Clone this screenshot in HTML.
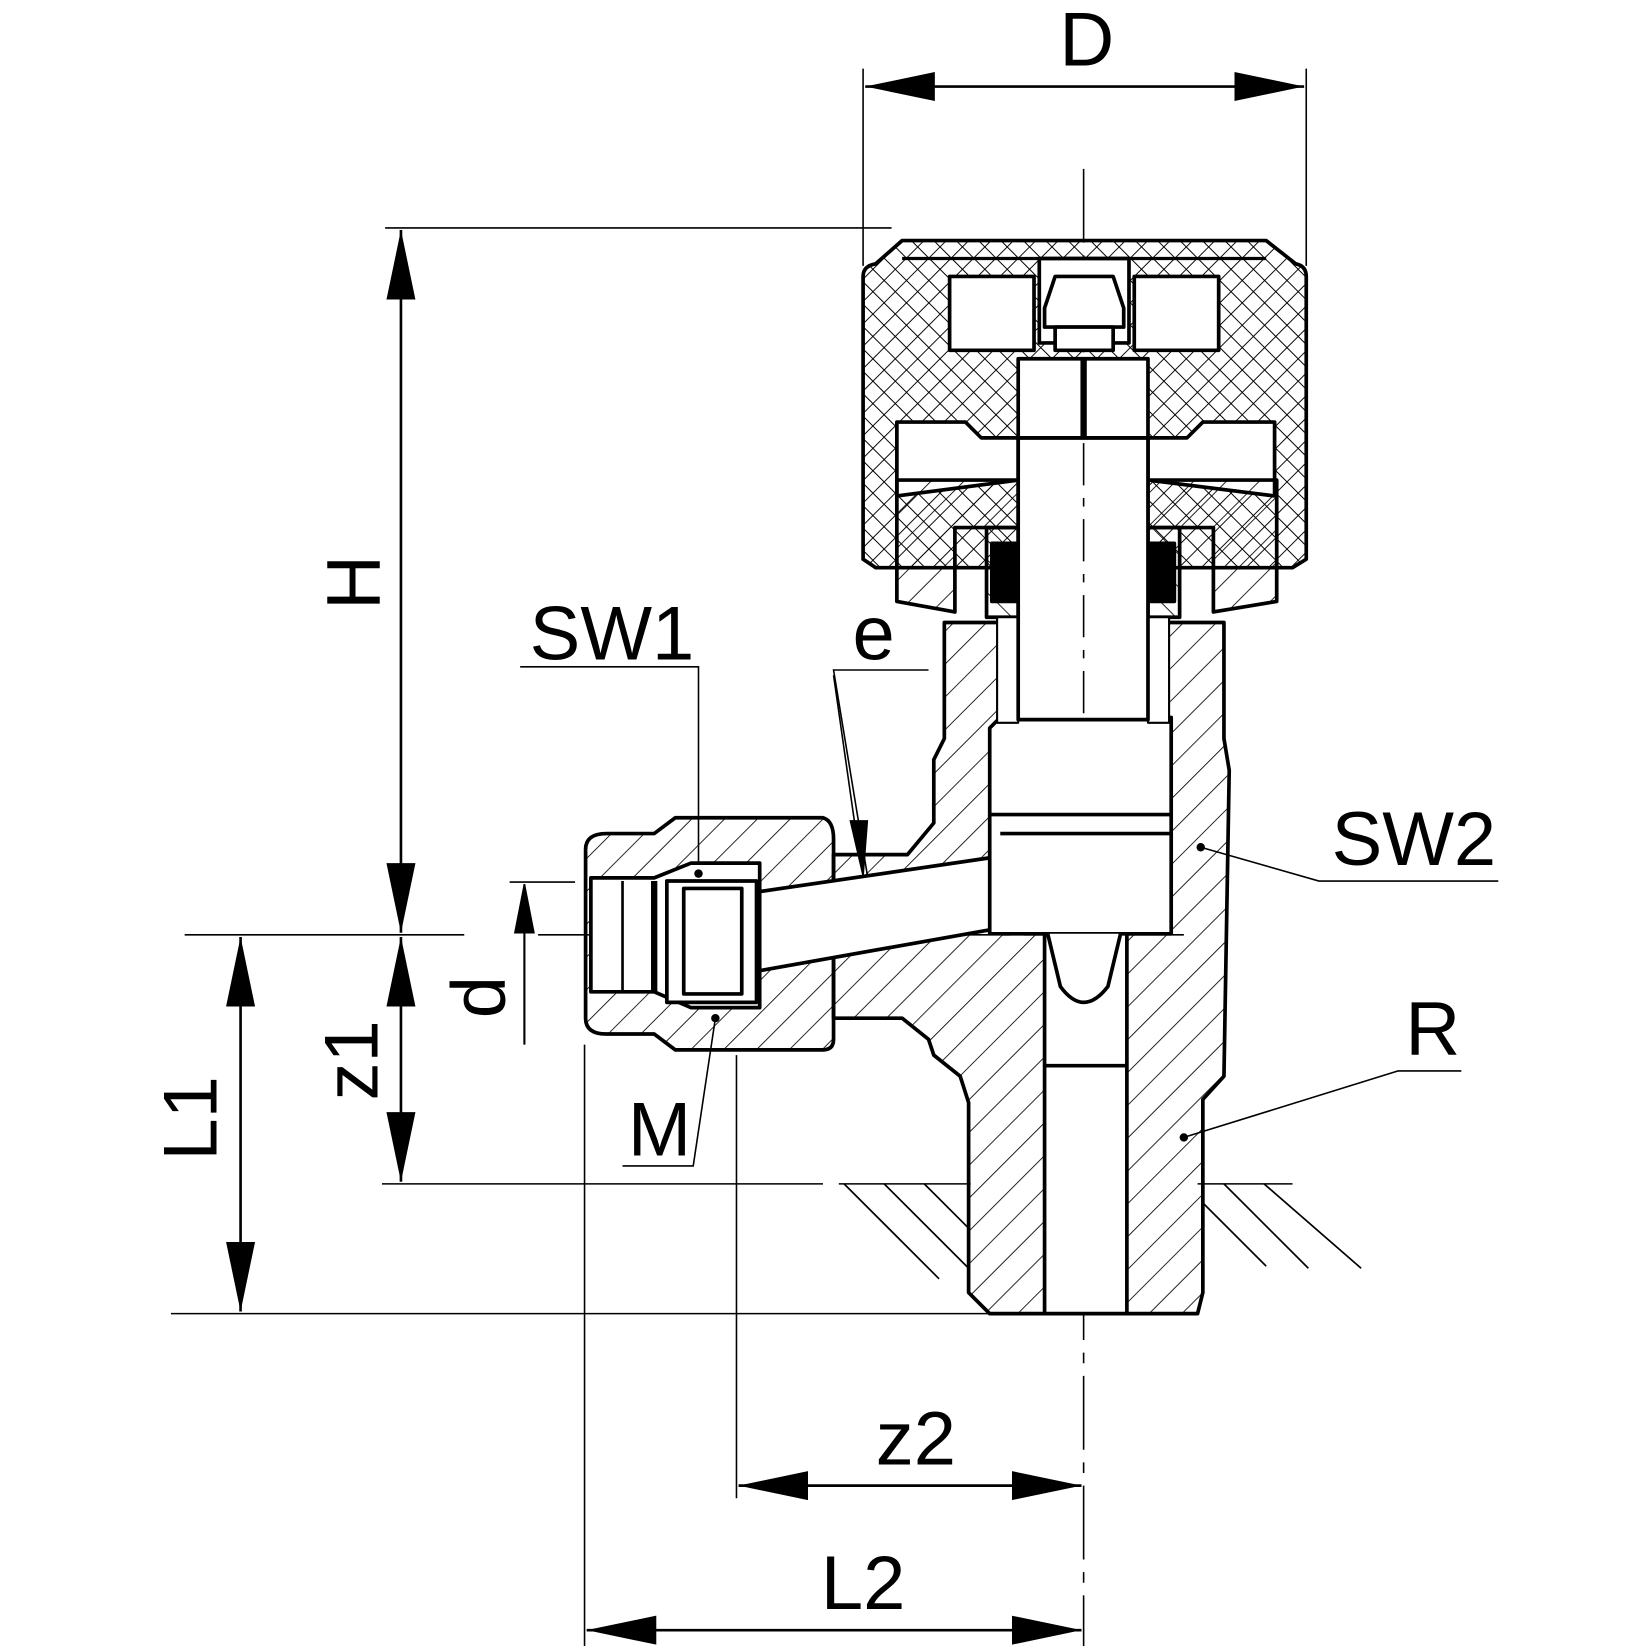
<!DOCTYPE html>
<html><head><meta charset="utf-8"><style>html,body{margin:0;padding:0;background:#fff}svg{display:block}</style></head>
<body>
<svg width="1646" height="1646" viewBox="0 0 1560 1560" xmlns="http://www.w3.org/2000/svg">
<defs>
<pattern id="h" width="22" height="22" patternUnits="userSpaceOnUse" patternTransform="rotate(45)"><line x1="0" y1="0" x2="0" y2="22" stroke="#000" stroke-width="1.6"/></pattern>
<pattern id="hr" width="22" height="22" patternUnits="userSpaceOnUse" patternTransform="rotate(-45)"><line x1="0" y1="0" x2="0" y2="22" stroke="#000" stroke-width="1.6"/></pattern>
<pattern id="x" width="15" height="15" patternUnits="userSpaceOnUse" patternTransform="rotate(45)"><path d="M0 0V15M0 0H15" stroke="#000" stroke-width="1.8"/></pattern>
<marker id="a" viewBox="0 0 24 10" refX="24" refY="5" markerWidth="66" markerHeight="28" markerUnits="userSpaceOnUse" orient="auto-start-reverse"><path d="M0 0L24 5L0 10Z"/></marker>
</defs>
<g fill="none" stroke="#000" stroke-width="1.5">
<line x1="818" y1="65" x2="818" y2="252"/><line x1="1238" y1="65" x2="1238" y2="252"/>
<line x1="820" y1="82" x2="1236" y2="82" stroke-width="2.5" marker-start="url(#a)" marker-end="url(#a)"/>
<line x1="365" y1="216" x2="845" y2="216"/>
<line x1="380" y1="218" x2="380" y2="884" stroke-width="2.5" marker-start="url(#a)" marker-end="url(#a)"/>
<line x1="380" y1="888" x2="380" y2="1120" stroke-width="2.5" marker-start="url(#a)" marker-end="url(#a)"/>
<line x1="228" y1="888" x2="228" y2="1243" stroke-width="2.5" marker-start="url(#a)" marker-end="url(#a)"/>
<line x1="175" y1="886" x2="440" y2="886"/>
<line x1="510" y1="886" x2="1130" y2="886" stroke-dasharray="60 12 8 12"/>
<line x1="362" y1="1122" x2="780" y2="1122"/><line x1="795" y1="1122" x2="920" y2="1122"/><line x1="1135" y1="1122" x2="1225" y2="1122"/>
<line x1="162" y1="1245" x2="940" y2="1245"/>
<line x1="483" y1="836" x2="545" y2="836"/>
<line x1="497" y1="838" x2="497" y2="990" stroke-width="2"/>
<path d="M497 838L488 884H506Z" fill="#000"/>
<line x1="698" y1="1000" x2="698" y2="1420"/><line x1="554" y1="990" x2="554" y2="1560"/>
<line x1="1027" y1="160" x2="1027" y2="1560" stroke-dasharray="70 12 10 12"/>
<line x1="700" y1="1408" x2="1025" y2="1408" stroke-width="2.5" marker-start="url(#a)" marker-end="url(#a)"/>
<line x1="556" y1="1545" x2="1025" y2="1545" stroke-width="2.5" marker-start="url(#a)" marker-end="url(#a)"/>
<polyline points="493,632 662,632 662,828"/>
<polyline points="880,635 790,635 832,890"/>
<line x1="790" y1="640" x2="810" y2="780"/>
<path d="M806 778L822 778L818 830Z" fill="#000"/>
<polyline points="1420,835 1250,835 1138,803"/>
<polyline points="1385,1015 1325,1015 1122,1078"/>
<polyline points="590,1105 657,1105 678,965"/>
<g stroke-width="1.6">
<line x1="800" y1="1122" x2="890" y2="1212"/><line x1="838" y1="1122" x2="918" y2="1202"/><line x1="876" y1="1122" x2="918" y2="1164"/>
<line x1="1140" y1="1140" x2="1200" y2="1200"/><line x1="1160" y1="1122" x2="1240" y2="1202"/><line x1="1198" y1="1122" x2="1290" y2="1202"/>
</g>
</g>
<g stroke="#000" stroke-width="3.5" stroke-linejoin="round">
<!-- knob -->
<path d="M818 262Q818 252 830 250L855 228L1200 228L1228 250Q1238 252 1238 262L1238 530L1225 538L830 538L818 530Z" fill="url(#x)"/>
<path d="M850 400L915 400L930 415L965 415L965 455L850 470Z" fill="#fff"/>
<path d="M1088 415L1125 415L1140 400L1208 400L1208 470L1088 455Z" fill="#fff"/>
<rect x="900" y="262" width="80" height="70" fill="#fff"/>
<rect x="1075" y="262" width="80" height="70" fill="#fff"/>
<rect x="985" y="245" width="85" height="80" fill="#fff"/>
<path d="M1000 262L1055 262L1065 292L1065 310L990 310L990 292Z" fill="#fff"/>
<rect x="1000" y="310" width="55" height="22" fill="#fff"/>
<line x1="855" y1="245" x2="1200" y2="245" stroke-width="3"/>
<!-- gland -->
<path d="M850 455L965 455L965 500L905 500L905 580L850 570Z" fill="url(#h)"/>
<path d="M1088 455L1210 455L1210 570L1150 580L1150 500L1088 500Z" fill="url(#h)"/>
<!-- body -->
<path d="M895 590L895 700L885 720L885 780L860 810L790 810L790 965L855 965L880 985L885 1000L910 1020L918 1045L918 1225L938 1245L1135 1245L1140 1225L1140 1042L1160 1020L1165 730L1160 700L1160 590Z" fill="url(#h)"/>
<path d="M575 790L620 790L640 775L780 775Q790 778 790 795L790 985Q790 995 780 995L640 995L620 980L575 980Q555 980 555 965L555 805Q555 790 575 790Z" fill="url(#h)"/>
<path d="M560 832L620 832L655 818L720 818L720 955L655 955L620 940L560 940Z" fill="#fff"/>
<rect x="632" y="835" width="85" height="115" fill="#fff"/>
<rect x="648" y="842" width="55" height="100" fill="#fff"/>
<line x1="620" y1="835" x2="620" y2="940" stroke-width="6"/>
<line x1="590" y1="835" x2="590" y2="940" stroke-width="2.5"/>
<path d="M720 845L945 812L945 880L720 920Z" fill="#fff"/>
<path d="M938 690L948 680L1110 680L1110 885L938 885Z" fill="#fff"/>
<line x1="948" y1="790" x2="1110" y2="790"/>
<line x1="938" y1="772" x2="1110" y2="772"/>
<rect x="990" y="885" width="78" height="360" fill="#fff"/>
<path d="M993 885L1005 935Q1027 965 1050 935L1062 885" fill="#fff"/>
<line x1="990" y1="1010" x2="1068" y2="1010"/>
<!-- packing -->
<rect x="935" y="500" width="30" height="85" fill="url(#hr)"/>
<rect x="1088" y="500" width="30" height="85" fill="url(#hr)"/>
<rect x="940" y="515" width="25" height="55" fill="#000"/>
<rect x="1088" y="515" width="25" height="55" fill="#000"/>
<rect x="945" y="585" width="20" height="100" fill="#fff" stroke-width="2"/>
<rect x="1088" y="585" width="20" height="100" fill="#fff" stroke-width="2"/>
<!-- stem -->
<rect x="965" y="415" width="123" height="267" fill="#fff"/>
<rect x="965" y="340" width="123" height="75" fill="#fff"/>
<line x1="1027" y1="340" x2="1027" y2="415" stroke-width="6"/>
</g>
<line x1="1027" y1="420" x2="1027" y2="680" stroke="#000" stroke-width="1.5" stroke-dasharray="40 12 8 12"/>
<g font-family="Liberation Sans, sans-serif" font-size="72" fill="#000">
<text x="1030" y="62" text-anchor="middle">D</text>
<text x="580" y="625" text-anchor="middle">SW1</text>
<text x="828" y="625" text-anchor="middle">e</text>
<text x="1340" y="820" text-anchor="middle">SW2</text>
<text x="1358" y="1000" text-anchor="middle">R</text>
<text x="625" y="1095" text-anchor="middle">M</text>
<text x="868" y="1388" text-anchor="middle">z2</text>
<text x="818" y="1525" text-anchor="middle">L2</text>
<text transform="translate(360,552) rotate(-90)" text-anchor="middle">H</text>
<text transform="translate(478,945) rotate(-90)" text-anchor="middle">d</text>
<text transform="translate(358,1005) rotate(-90)" text-anchor="middle">z1</text>
<text transform="translate(205,1060) rotate(-90)" text-anchor="middle">L1</text>
</g>
<g fill="#000"><circle cx="662" cy="828" r="4"/><circle cx="678" cy="965" r="4"/><circle cx="1138" cy="803" r="4"/><circle cx="1122" cy="1078" r="4"/></g>
</svg>
</body></html>
